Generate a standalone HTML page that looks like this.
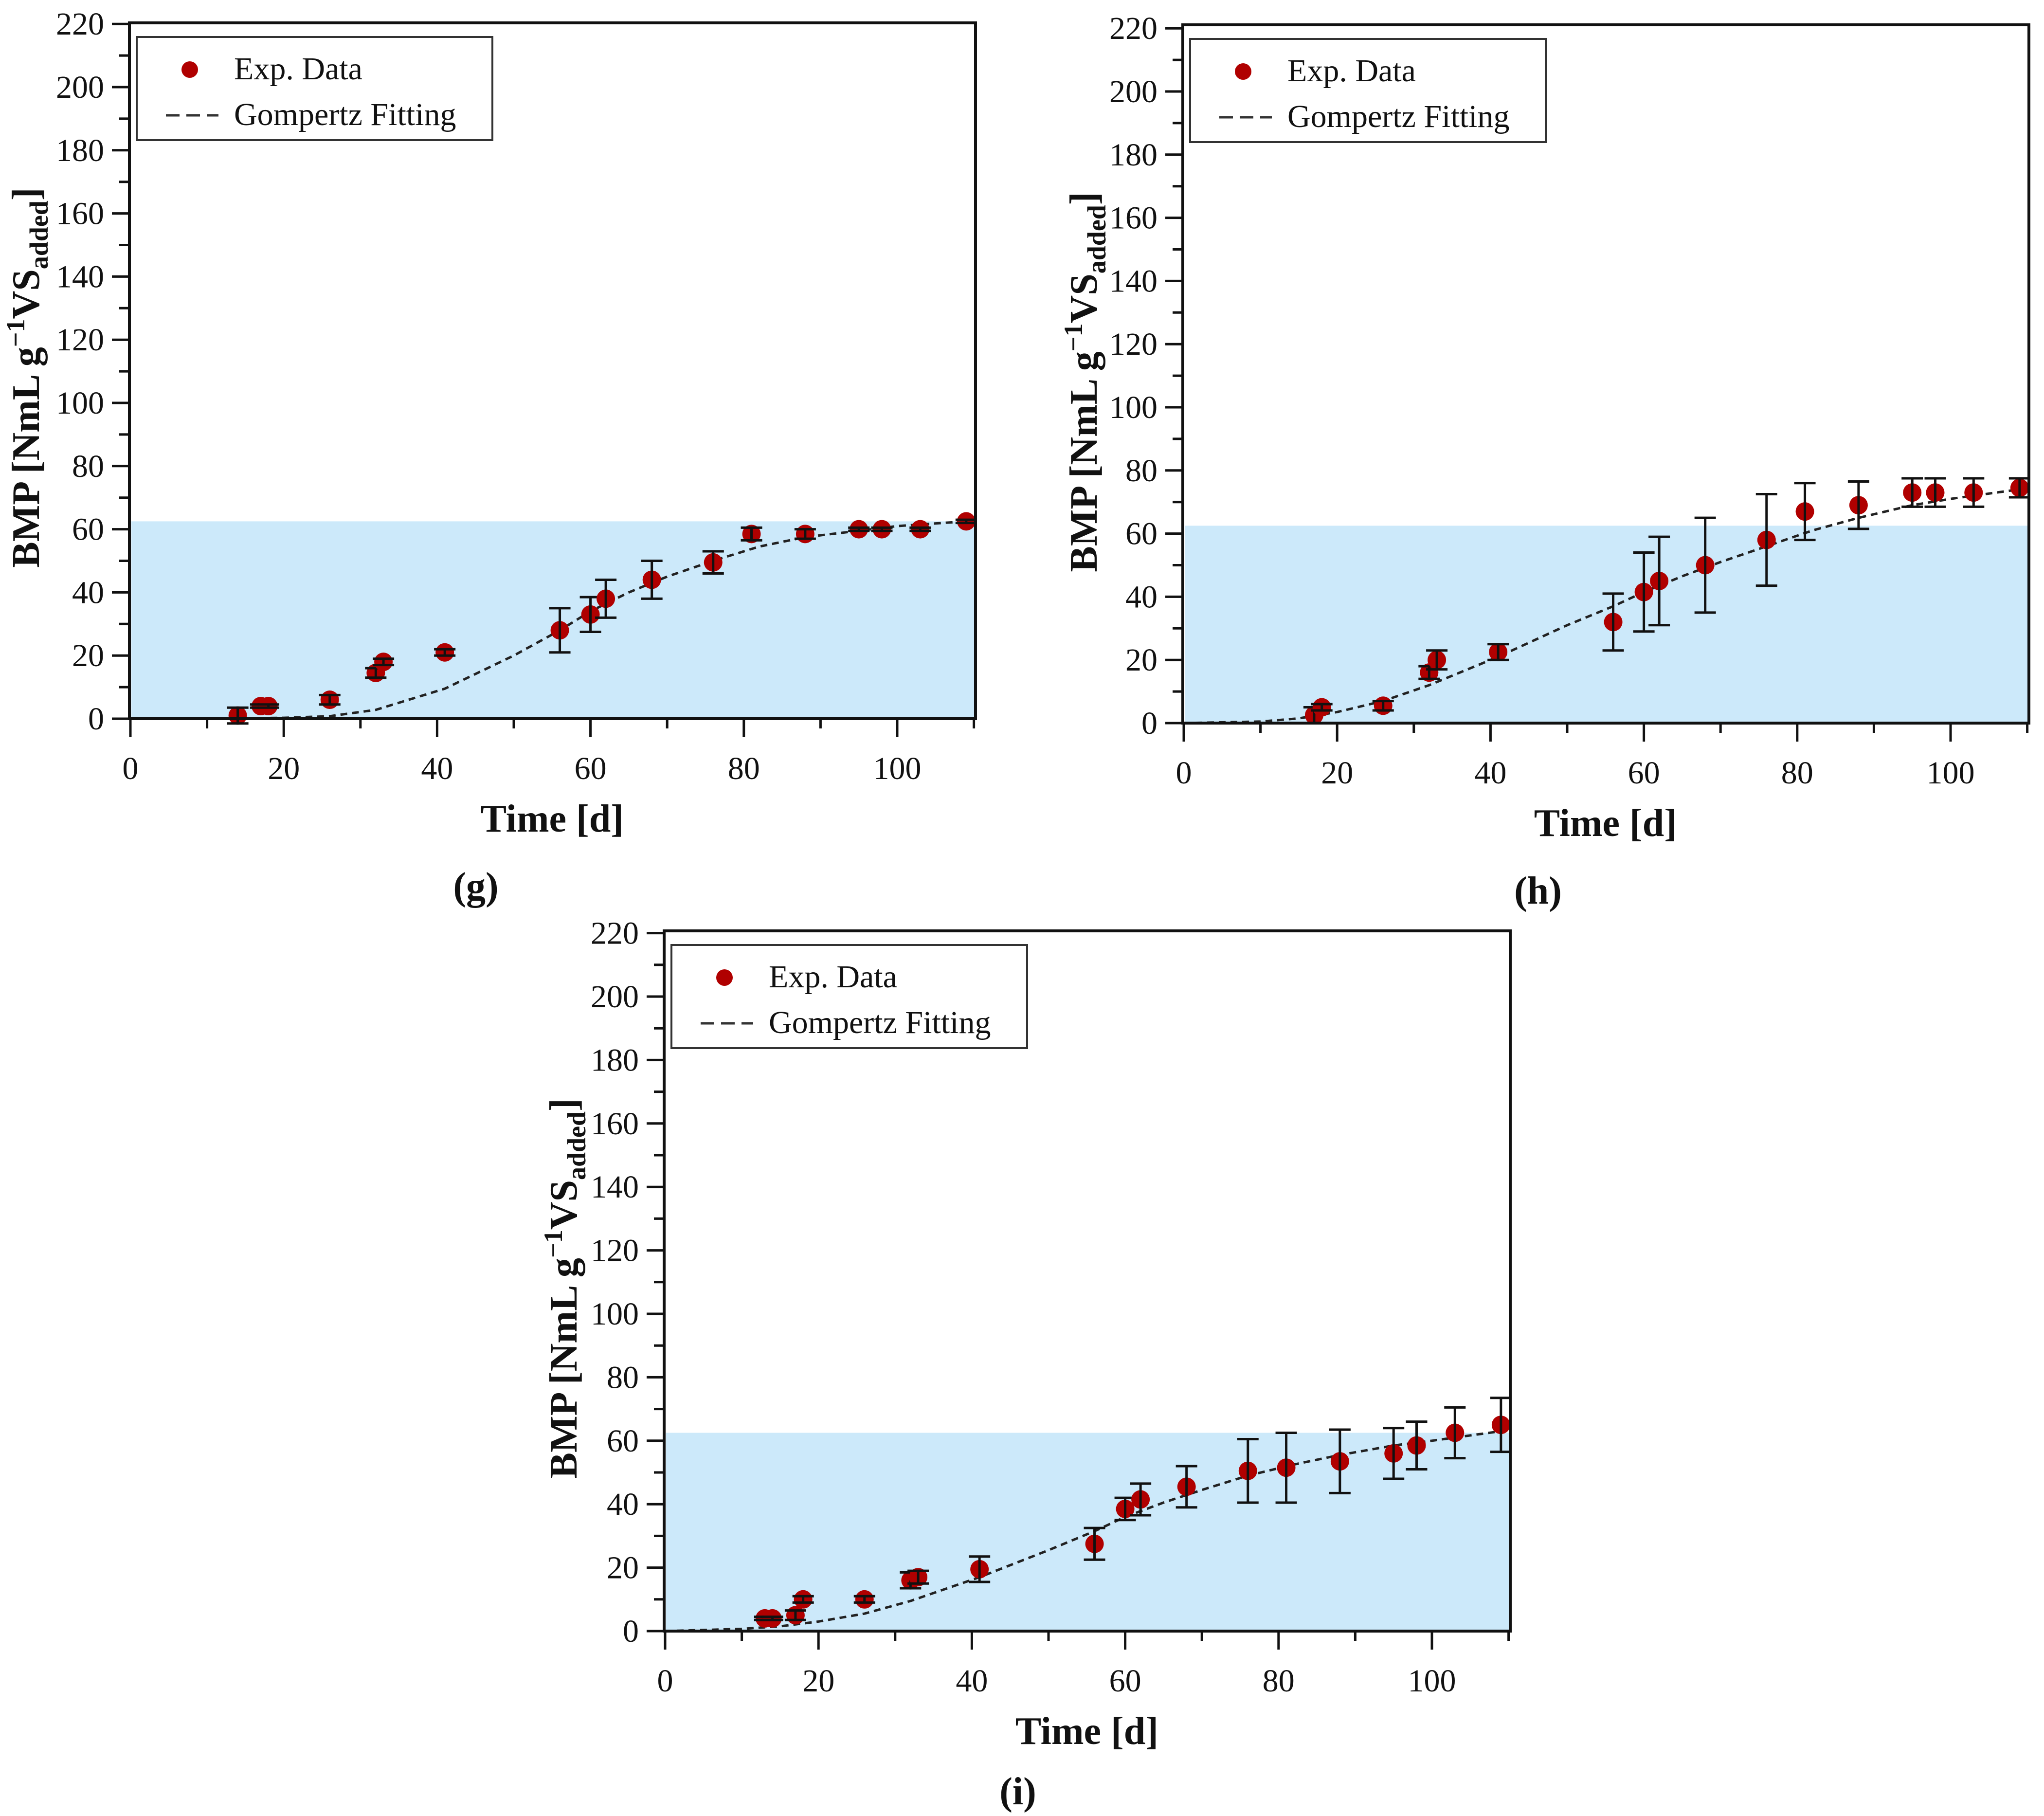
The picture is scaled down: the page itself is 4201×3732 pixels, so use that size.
<!DOCTYPE html>
<html><head><meta charset="utf-8">
<style>
html,body{margin:0;padding:0;background:#fff;}
svg{display:block;font-family:"Liberation Serif",serif;}
svg text{font-family:"Liberation Serif",serif;}
</style></head>
<body>
<svg id="chart" width="4201" height="3732" viewBox="0 0 4201 3732" xmlns="http://www.w3.org/2000/svg" font-family="Liberation Serif, serif">
</svg>
<script>
// ---- Panel g data ----
const gDays = [14, 17, 18, 26, 32, 33, 41, 56, 60, 62, 68, 76, 81, 88, 95, 98, 103, 109];
const gBmp  = [1, 4, 4, 6, 14.5, 18, 21, 28, 33, 38, 44, 49.5, 58.5, 58.5, 60, 60, 60, 62.5];
const gErr  = [2.5, 0.5, 0.5, 1.5, 1.5, 1, 1, 7, 5.5, 6, 6, 3.5, 2, 1.5, 0.5, 0.5, 0.5, 0.5];
const gFitX = [0, 10, 20, 26, 32, 41, 50, 56, 60, 65, 70, 76, 82, 88, 95, 100, 109];
const gFitY = [0, 0, 0.3, 0.8, 2.8, 9.5, 20, 28, 34, 40, 45, 50, 54.5, 57.5, 59.5, 61, 62.5];
// ---- Panel h data ----
const hDays = [17, 18, 26, 32, 33, 41, 56, 60, 62, 68, 76, 81, 88, 95, 98, 103, 109];
const hBmp  = [2.5, 5, 5.5, 16, 20, 22.5, 32, 41.5, 45, 50, 58, 67, 69, 73, 73, 73, 74.5];
const hErr  = [2.5, 1, 1.5, 2, 3, 2.5, 9, 12.5, 14, 15, 14.5, 9, 7.5, 4.5, 4.5, 4.5, 3];
const hFitX = [0, 10, 15, 20, 26, 32, 41, 50, 56, 60, 65, 70, 76, 82, 88, 95, 100, 109];
const hFitY = [0, 0.5, 1.5, 3.5, 7, 12, 21, 31, 37, 41.5, 46.5, 51, 56, 61, 65, 69, 71, 74];
// ---- Panel i data ----
const iDays = [13, 14, 17, 18, 26, 32, 33, 41, 56, 60, 62, 68, 76, 81, 88, 95, 98, 103, 109];
const iBmp  = [4, 4, 5, 10, 10, 16, 17, 19.5, 27.5, 38.5, 41.5, 45.5, 50.5, 51.5, 53.5, 56, 58.5, 62.5, 65];
const iErr  = [0.5, 0.5, 1.5, 1, 1, 2.5, 2, 4, 5, 3.5, 5, 6.5, 10, 11, 10, 8, 7.5, 8, 8.5];
const iFitX = [0, 10, 15, 20, 26, 32, 41, 50, 56, 60, 65, 70, 76, 82, 88, 95, 100, 109];
const iFitY = [0, 0.7, 1.5, 3, 5.5, 9.5, 17, 25.5, 31.5, 36, 40.5, 44.5, 49, 52.5, 55.5, 58.5, 60, 63];
// shared
const shadeTop = 62.5;
const yTickVals = [0, 20, 40, 60, 80, 100, 120, 140, 160, 180, 200, 220];
const xTickVals = [0, 20, 40, 60, 80, 100];

const NS = "http://www.w3.org/2000/svg";
const svg = document.getElementById("chart");
const FF = '"Liberation Serif", serif';
function mk(tag, attrs, parent) {
  const e = document.createElementNS(NS, tag);
  for (const k in attrs) e.setAttribute(k, attrs[k]);
  if (tag === "text") e.setAttribute("font-family", FF);
  (parent || svg).appendChild(e);
  return e;
}

function panel(id, L, days, bmp, err, fitX, fitY) {
  const g = mk("g", {});
  
  
  const sx = d => L.X0 + d * L.dx;
  const sy = v => L.Y0 - v * L.dy;

  const shade = mk("rect", {x: L.X0 + 2, y: sy(shadeTop), width: L.right - L.X0 - 2, height: L.Y0 - sy(shadeTop), fill: "#cce9fa"}, g);
  
  

  let d = "";
  fitX.forEach((x, k) => { d += (k ? "L" : "M") + sx(x).toFixed(1) + " " + sy(fitY[k]).toFixed(1); });
  const fit = mk("path", {d: d, fill: "none", stroke: "#222", "stroke-width": 5, "stroke-dasharray": "14 10"}, g);
  
  

  days.forEach((x, k) => {
    const px = sx(x), py = sy(bmp[k]);
    const pt = mk("circle", {cx: px, cy: py, r: 19, fill: "#b00000"}, g);
    
    
    const t = sy(bmp[k] + err[k]), b = sy(bmp[k] - err[k]);
    const eb = mk("path", {d: `M${px} ${t}V${b}M${px-22} ${t}H${px+22}M${px-22} ${b}H${px+22}`, stroke: "#111", "stroke-width": 5, fill: "none"}, g);
    
    
  });

  const fr = mk("rect", {x: L.X0 - 2, y: L.top, width: L.right - L.X0 + 2, height: L.Y0 - L.top, fill: "none", stroke: "#111", "stroke-width": 6}, g);
  
  

  for (let v = 0; v <= 220; v += 10) {
    const major = v % 20 === 0;
    mk("line", {x1: L.X0 - (major ? 38 : 23), x2: L.X0, y1: sy(v), y2: sy(v), stroke: "#111", "stroke-width": 5}, g);
  }
  yTickVals.forEach(v => {
    const t = mk("text", {x: L.X0 - 54, y: sy(v) + 22, "font-size": 66, "text-anchor": "end", fill: "#111"}, g);
    t.textContent = v;
    
    
  });
  for (let v = 0; v <= 110; v += 10) {
    const major = v % 20 === 0;
    mk("line", {x1: sx(v), x2: sx(v), y1: L.Y0, y2: L.Y0 + (major ? 38 : 20), stroke: "#111", "stroke-width": 5}, g);
  }
  xTickVals.forEach(v => {
    const t = mk("text", {x: sx(v), y: L.Y0 + 124, "font-size": 66, "text-anchor": "middle", fill: "#111"}, g);
    t.textContent = v;
    
    
  });

  const xt = mk("text", {x: L.X0 + 55 * L.dx, y: L.Y0 + 232, "font-size": 80, "font-weight": "bold", "text-anchor": "middle", fill: "#111"}, g);
  xt.textContent = "Time [d]";
  
  

  const yt = mk("text", {x: 0, y: 0, "font-size": 80, "font-weight": "bold", "text-anchor": "middle", fill: "#111",
    transform: `translate(${L.ytX},${L.Y0 - 108 * L.dy}) rotate(-90)`}, g);
  
  
  yt.innerHTML = 'BMP [NmL g<tspan dy="-30" font-size="54">\u22121</tspan><tspan dy="30">VS</tspan><tspan dy="18" font-size="54">added</tspan><tspan dy="-18">]</tspan>';

  const lx = L.X0 + 13, ly = L.top + 29;
  const lg = mk("g", {}, g);
  
  
  mk("rect", {x: lx, y: ly, width: 731, height: 212, fill: "#fff", stroke: "#333", "stroke-width": 4}, lg);
  const lm = mk("circle", {cx: lx + 109, cy: ly + 67, r: 17, fill: "#b00000"}, lg);
  
  
  const ll = mk("line", {x1: lx + 60, x2: lx + 168, y1: ly + 161, y2: ly + 161, stroke: "#333", "stroke-width": 5, "stroke-dasharray": "28 14"}, lg);
  
  
  const t1 = mk("text", {x: lx + 200, y: ly + 87, "font-size": 66, fill: "#111"}, lg);
  t1.textContent = "Exp. Data";
  
  
  const t2 = mk("text", {x: lx + 200, y: ly + 181, "font-size": 66, fill: "#111"}, lg);
  t2.textContent = "Gompertz Fitting";
  
  

  const pl = mk("text", {x: L.labX, y: L.labY, "font-size": 80, "font-weight": "bold", "text-anchor": "middle", fill: "#111"}, g);
  pl.textContent = "(" + id + ")";
  
  
}

panel("g", {X0: 268, Y0: 1477, dx: 15.76, dy: 6.49, right: 2005, top: 47, ytX: 80, labX: 978, labY: 1848}, gDays, gBmp, gErr, gFitX, gFitY);
panel("h", {X0: 2433, Y0: 1486, dx: 15.76, dy: 6.49, right: 4170, top: 51, ytX: 2254, labX: 3161, labY: 1857}, hDays, hBmp, hErr, hFitX, hFitY);
panel("i", {X0: 1367, Y0: 3352, dx: 15.76, dy: 6.52, right: 3104, top: 1913, ytX: 1185, labX: 2092, labY: 3708}, iDays, iBmp, iErr, iFitX, iFitY);
</script>
</body></html>
